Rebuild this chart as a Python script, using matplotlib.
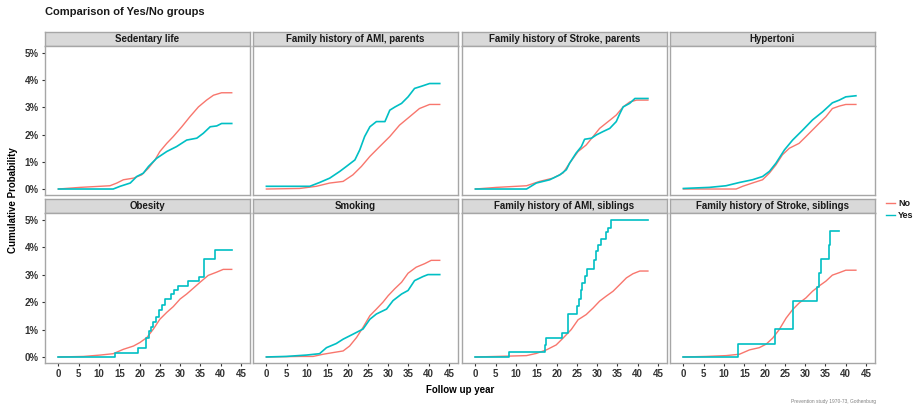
import numpy as np
import matplotlib
matplotlib.use('Agg')
import matplotlib.pyplot as plt
from matplotlib.lines import Line2D
from matplotlib.ticker import FuncFormatter

plt.rcParams['font.family'] = ['Liberation Sans', 'DejaVu Sans']

# 各パネルのタイトル
panels = ['Sedentary life', 'Family history of AMI, parents',
          'Family history of Stroke, parents', 'Hypertoni',
          'Obesity', 'Smoking',
          'Family history of AMI, siblings', 'Family history of Stroke, siblings']

# 累積確率 (%) : No群
no_x = [
    [0, 5.3, 12.7, 14.4, 16, 18.5, 20.5, 22.2, 23.8, 25, 26.7, 28.3, 30.4, 32.4, 34.5, 36.5, 38.2, 40.2, 42.7],
    [0, 8.2, 12.3, 15.6, 18.9, 21.3, 23.4, 25.5, 27.9, 30.4, 32.8, 35.3, 37.7, 40.2, 42.7],
    [0, 5.2, 12.6, 15.8, 19.1, 21.6, 23.2, 25.3, 27.3, 29, 30.6, 32.7, 34.7, 36.4, 38, 39.7, 42.5],
    [0, 13, 14.6, 17, 19.5, 21.2, 22.8, 24.4, 26.1, 28.5, 30.2, 31.8, 33.4, 35.1, 36.7, 38.4, 40, 42.5],
    [0, 6.2, 10.3, 13.5, 16, 18.5, 20.1, 21.8, 23.4, 25, 26.7, 28.3, 30, 31.6, 33.3, 34.9, 36.9, 39, 40.6, 42.7],
    [0, 8.2, 11.5, 14, 16.4, 18.9, 20.5, 22.2, 23.8, 25.5, 27.1, 28.7, 30, 31.6, 33.3, 34.9, 36.9, 39, 40.6, 42.7],
    [0, 5.2, 12.6, 15, 17.5, 19.9, 21.6, 23.6, 25.3, 27.3, 29, 30.6, 32.2, 33.9, 35.6, 37.2, 38.8, 40.5, 42.5],
    [0, 5.6, 10.5, 13.8, 16.3, 18.7, 20.4, 22, 23.6, 25.3, 26.9, 28.5, 30.2, 31.8, 33.4, 35.1, 36.7, 38.4, 40, 42.5],
]
no_y = [
    [0, 0.06, 0.12, 0.22, 0.34, 0.4, 0.52, 0.77, 1.07, 1.38, 1.68, 1.93, 2.29, 2.66, 3.02, 3.27, 3.45, 3.54, 3.54],
    [0, 0.02, 0.1, 0.22, 0.28, 0.52, 0.83, 1.2, 1.56, 1.93, 2.35, 2.66, 2.96, 3.11, 3.11],
    [0, 0.06, 0.12, 0.28, 0.4, 0.59, 0.95, 1.38, 1.62, 1.93, 2.23, 2.48, 2.72, 3.02, 3.2, 3.27, 3.27],
    [0, 0, 0.1, 0.22, 0.34, 0.59, 0.89, 1.26, 1.5, 1.68, 1.93, 2.17, 2.41, 2.66, 2.96, 3.05, 3.11, 3.11],
    [0, 0.02, 0.07, 0.12, 0.28, 0.4, 0.53, 0.71, 1.02, 1.38, 1.63, 1.84, 2.12, 2.3, 2.52, 2.73, 2.98, 3.1, 3.2, 3.2],
    [0, 0.02, 0.02, 0.1, 0.16, 0.22, 0.4, 0.71, 1.08, 1.51, 1.75, 2.0, 2.24, 2.49, 2.73, 3.06, 3.28, 3.41, 3.53, 3.53],
    [0, 0.02, 0.05, 0.13, 0.26, 0.44, 0.69, 1.0, 1.36, 1.55, 1.79, 2.04, 2.22, 2.4, 2.65, 2.89, 3.04, 3.14, 3.14],
    [0, 0.02, 0.05, 0.1, 0.26, 0.34, 0.47, 0.69, 1.0, 1.42, 1.73, 1.97, 2.16, 2.4, 2.59, 2.77, 2.99, 3.08, 3.17, 3.17],
]

# 累積確率 (%) : Yes群
yes_x = [
    [0, 13.5, 15.2, 17.7, 19.3, 20.9, 22.2, 24.2, 26.7, 29.1, 31.6, 34.1, 35.7, 37.4, 39, 40.2, 42.7],
    [0, 10.7, 13.1, 15.6, 18.1, 19.7, 21.8, 23, 24.2, 25.5, 27.1, 29.2, 30.4, 31.7, 33.3, 34.9, 36.5, 38.2, 40.2, 42.7],
    [0, 12.6, 15, 18.3, 20.8, 22.4, 23.2, 24.8, 26.1, 26.9, 28.6, 29.8, 31.4, 33.1, 34.7, 35.6, 36.4, 38, 39.3, 42.5],
    [0, 6.4, 10.5, 13.8, 17, 19.5, 21.2, 22.8, 24.9, 26.9, 29.4, 31.8, 34.3, 36.7, 38.4, 40, 42.5],
    [0, 14, 19.7, 21.5, 22.2, 22.7, 23.3, 24.0, 24.8, 25.5, 26.2, 27.8, 28.6, 29.4, 31.9, 34.6, 35.9, 38.7, 42.7],
    [0, 4.9, 9.9, 13.1, 14.8, 17.2, 18.9, 21.3, 23.8, 25.5, 27.1, 29.6, 31.2, 33.3, 34.9, 36.5, 38.6, 39.8, 42.7],
    [0, 8.2, 17.2, 17.5, 21.4, 22.8, 25.0, 25.5, 25.9, 26.2, 26.9, 27.6, 29.3, 29.6, 30.1, 31.0, 32.2, 32.7, 33.3, 42.5],
    [0, 13.5, 22.6, 27.1, 33.0, 33.4, 33.8, 35.8, 36.0, 38.4],
]
yes_y = [
    [0, 0, 0.1, 0.22, 0.46, 0.58, 0.83, 1.13, 1.38, 1.56, 1.8, 1.87, 2.05, 2.29, 2.32, 2.41, 2.41],
    [0.1, 0.1, 0.24, 0.4, 0.65, 0.83, 1.07, 1.44, 1.93, 2.29, 2.48, 2.48, 2.9, 3.02, 3.15, 3.39, 3.7, 3.78, 3.88, 3.88],
    [0, 0, 0.22, 0.34, 0.52, 0.71, 0.95, 1.32, 1.56, 1.83, 1.87, 1.99, 2.11, 2.23, 2.48, 2.78, 3.02, 3.15, 3.33, 3.33],
    [0.02, 0.06, 0.12, 0.24, 0.34, 0.46, 0.65, 0.95, 1.44, 1.8, 2.17, 2.54, 2.84, 3.17, 3.27, 3.39, 3.43],
    [0, 0.16, 0.34, 0.71, 0.95, 1.1, 1.26, 1.45, 1.7, 1.9, 2.12, 2.3, 2.45, 2.6, 2.78, 2.94, 3.59, 3.9, 3.9],
    [0, 0.02, 0.07, 0.12, 0.34, 0.49, 0.65, 0.83, 1.02, 1.38, 1.57, 1.75, 2.06, 2.3, 2.43, 2.79, 2.94, 3.01, 3.01],
    [0, 0.2, 0.45, 0.69, 0.87, 1.57, 1.85, 2.1, 2.45, 2.71, 2.96, 3.2, 3.55, 3.87, 4.1, 4.3, 4.55, 4.73, 5.0, 5.0],
    [0, 0.48, 1.02, 2.04, 2.55, 3.05, 3.59, 4.1, 4.6, 4.6],
]
# 階段状に描くYes系列
yes_steps = [False, False, False, False, True, False, True, True]

x_ticks = [0, 5, 10, 15, 20, 25, 30, 35, 40, 45]
y_ticks = [0, 1, 2, 3, 4, 5]
groups = ['No', 'Yes']

col_no = '#F8766D'
col_yes = '#00BFC4'
border = '#A6A6A6'

W, H = 918, 409
fig = plt.figure(figsize=(W / 100, H / 100), dpi=100)

def box(l, t, w, h):
    return [l / W, 1 - (t + h) / H, w / W, h / H]

lefts = [45, 253, 462, 670]
rows = [(32, 46, 195), (199, 213, 363)]
pw = 205

for i, name in enumerate(panels):
    r, c = divmod(i, 4)
    st, pt, pb = rows[r]
    # ストリップ
    sax = fig.add_axes(box(lefts[c], st, pw, pt - st))
    sax.set_facecolor('#D9D9D9')
    sax.set_xticks([])
    sax.set_yticks([])
    for s in sax.spines.values():
        s.set_color(border)
        s.set_linewidth(1.0)
    sax.text(0.5, 0.5, name, ha='center', va='center', fontsize=7,
             fontweight='bold', color='#1A1A1A', transform=sax.transAxes)

    ax = fig.add_axes(box(lefts[c], pt, pw, pb - pt))
    ax.plot(no_x[i], no_y[i], color=col_no, lw=1.0)
    ds = 'steps-post' if yes_steps[i] else 'default'
    ax.plot(yes_x[i], yes_y[i], color=col_yes, lw=1.2, drawstyle=ds)
    ax.set_xlim(-3.3, 47.2)
    ax.set_ylim(-0.22, 5.26)
    ax.set_xticks(x_ticks)
    ax.set_yticks(y_ticks)
    ax.yaxis.set_major_formatter(FuncFormatter(lambda v, p: '%d%%' % v))
    for s in ax.spines.values():
        s.set_color(border)
        s.set_linewidth(1.0)
    ax.tick_params(length=2.5, width=0.8, color='#333333', labelsize=7,
                   labelcolor='#333333', pad=2)
    for lab in ax.get_xticklabels() + ax.get_yticklabels():
        lab.set_fontweight('bold')
    if c != 0:
        ax.tick_params(axis='y', left=False, labelleft=False)
    if r != 1:
        ax.tick_params(axis='x', bottom=False, labelbottom=False)

fig.text(45 / W, 1 - 12 / H, 'Comparison of Yes/No groups', fontsize=8,
         fontweight='bold', va='center', ha='left', color='#1A1A1A')
fig.text(13 / W, 1 - 200 / H, 'Cumulative Probability', rotation=90,
         fontsize=7, fontweight='bold', va='center', ha='center')
fig.text(460 / W, 1 - 390 / H, 'Follow up year', fontsize=7,
         fontweight='bold', va='center', ha='center')
fig.text(876 / W, 1 - 401 / H, 'Prevention study 1970-73, Gothenburg',
         fontsize=3.5, color='#808080', va='center', ha='right')

# 凡例 (手動配置)
for k, (g, col) in enumerate(zip(groups, [col_no, col_yes])):
    yy = 1 - (203 + 12 * k) / H
    fig.add_artist(Line2D([886 / W, 895 / W], [yy, yy], color=col, lw=1.0,
                          transform=fig.transFigure))
    fig.text(898 / W, yy, g, fontsize=6.5, fontweight='bold',
             va='center', ha='left', color='#1A1A1A')

fig.savefig('out.png', dpi=100)
